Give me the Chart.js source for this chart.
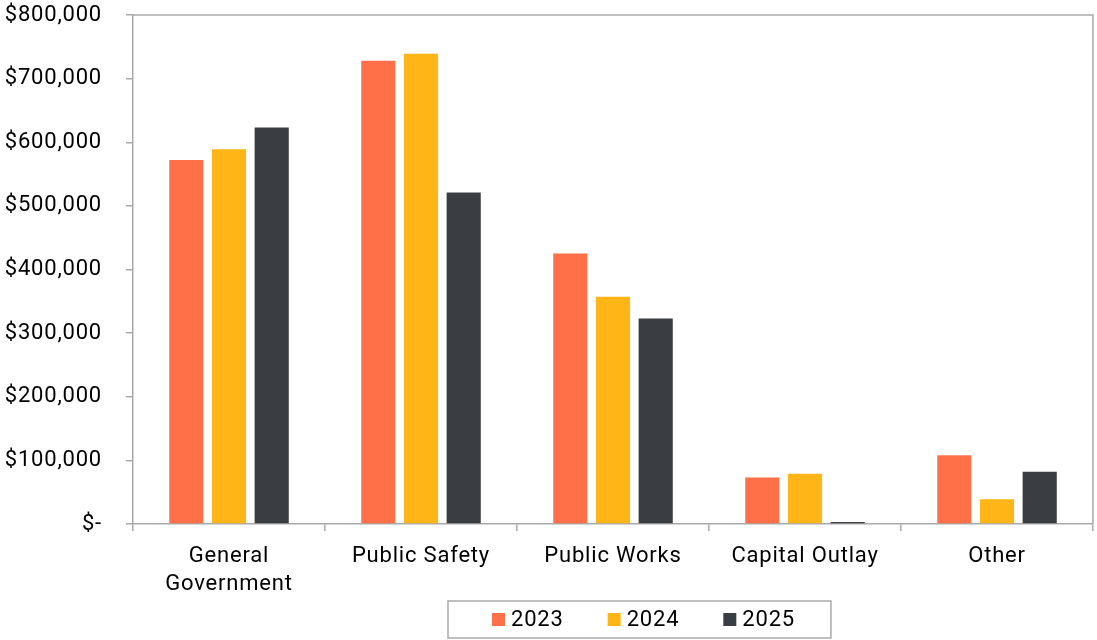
<!DOCTYPE html>
<html>
<head>
<meta charset="utf-8">
<script src="https://cdn.jsdelivr.net/npm/chart.js@4.4.1/dist/chart.umd.min.js"></script>
<style>
  body { margin: 0; background: #fff; }
  #wrap { width: 1097px; height: 640px; position: relative; }
</style>
</head>
<body>
<div id="wrap"><canvas id="spendingChart"></canvas></div>
<script>
  const categories = [['General', 'Government'], 'Public Safety', 'Public Works', 'Capital Outlay', 'Other'];
  const years = ['2023', '2024', '2025'];
  const values2023 = [572000, 728000, 425000, 73000, 108000];
  const values2024 = [589000, 739000, 357000, 79000, 39000];
  const values2025 = [623000, 521000, 323000, 3000, 82000];
  const yTickLabels = ['$-', '$100,000', '$200,000', '$300,000', '$400,000', '$500,000', '$600,000', '$700,000', '$800,000'];

  const colors = ['#FF7049', '#FFB515', '#3A3E42'];
  const axisGray = '#A9A9A9';
  const fontFamily = 'Roboto, "Liberation Sans", sans-serif';
  const letterSpacing = '0.8px';

  // slightly looser text, like the exported original
  const spacingPlugin = {
    id: 'spacing',
    beforeLayout(chart) { chart.ctx.letterSpacing = letterSpacing; },
    beforeDraw(chart) { chart.ctx.letterSpacing = letterSpacing; }
  };

  // plot frame (top + right edges) and boxed legend
  const framePlugin = {
    id: 'frameAndLegend',
    afterDraw(chart, args, opts) {
      const ctx = chart.ctx;
      const area = chart.chartArea;
      ctx.save();
      ctx.strokeStyle = axisGray;
      ctx.lineWidth = 1.5;
      ctx.beginPath();
      ctx.moveTo(area.left, area.top);
      ctx.lineTo(area.right, area.top);
      ctx.lineTo(area.right, area.bottom);
      ctx.stroke();

      // legend
      ctx.font = '22px ' + fontFamily;
      ctx.letterSpacing = letterSpacing;
      ctx.textBaseline = 'middle';
      ctx.textAlign = 'left';
      const items = chart.data.datasets.map(ds => ({
        text: ds.label,
        color: ds.backgroundColor,
        w: opts.box + opts.gap + ctx.measureText(ds.label).width
      }));
      const contentW = items.reduce((s, it) => s + it.w, 0) + opts.itemGap * (items.length - 1);
      const frameW = opts.padLeft + contentW + opts.padRight;
      ctx.strokeRect(opts.left, opts.top, frameW, opts.height);
      const cy = opts.top + opts.height / 2;
      let x = opts.left + opts.padLeft;
      items.forEach(it => {
        ctx.fillStyle = it.color;
        ctx.fillRect(x, cy - opts.box / 2, opts.box, opts.box);
        ctx.fillStyle = '#000';
        ctx.fillText(it.text, x + opts.box + opts.gap, cy + 1);
        x += it.w + opts.itemGap;
      });
      ctx.restore();
    }
  };

  const seriesValues = [values2023, values2024, values2025];

  new Chart(document.getElementById('spendingChart'), {
    type: 'bar',
    data: {
      labels: categories,
      datasets: years.map((y, i) => ({
        label: y,
        data: seriesValues[i],
        backgroundColor: colors[i],
        borderWidth: 0,
        categoryPercentage: 0.667,
        barPercentage: 0.8
      }))
    },
    options: {
      responsive: true,
      maintainAspectRatio: false,
      animation: false,
      layout: { padding: { top: 15, right: 4, left: 0, bottom: 0 } },
      plugins: {
        legend: { display: false },
        tooltip: { enabled: false },
        frameAndLegend: { left: 448, top: 601, height: 37, padLeft: 44, padRight: 36, box: 13, gap: 6, itemGap: 44 }
      },
      scales: {
        x: {
          afterFit(scale) { scale.height = 116; },
          grid: { drawOnChartArea: false, drawTicks: true, tickLength: 7, color: axisGray, lineWidth: 1.5, offset: true },
          border: { color: axisGray, width: 1.5 },
          ticks: {
            color: '#000',
            padding: 11,
            maxRotation: 0,
            autoSkip: false,
            font: { family: fontFamily, size: 22, lineHeight: 1.3 }
          }
        },
        y: {
          min: 0,
          max: 800000,
          afterFit(scale) {
            scale.width = 133;
            scale.paddingTop = 0;
            scale.paddingBottom = 0;
          },
          grid: { drawOnChartArea: false, drawTicks: true, tickLength: 7, color: axisGray, lineWidth: 1.5 },
          border: { color: axisGray, width: 1.5 },
          ticks: {
            stepSize: 100000,
            color: '#000',
            padding: 24,
            font: { family: fontFamily, size: 22 },
            callback: (value, index) => yTickLabels[index]
          }
        }
      }
    },
    plugins: [spacingPlugin, framePlugin]
  });
</script>
</body>
</html>
